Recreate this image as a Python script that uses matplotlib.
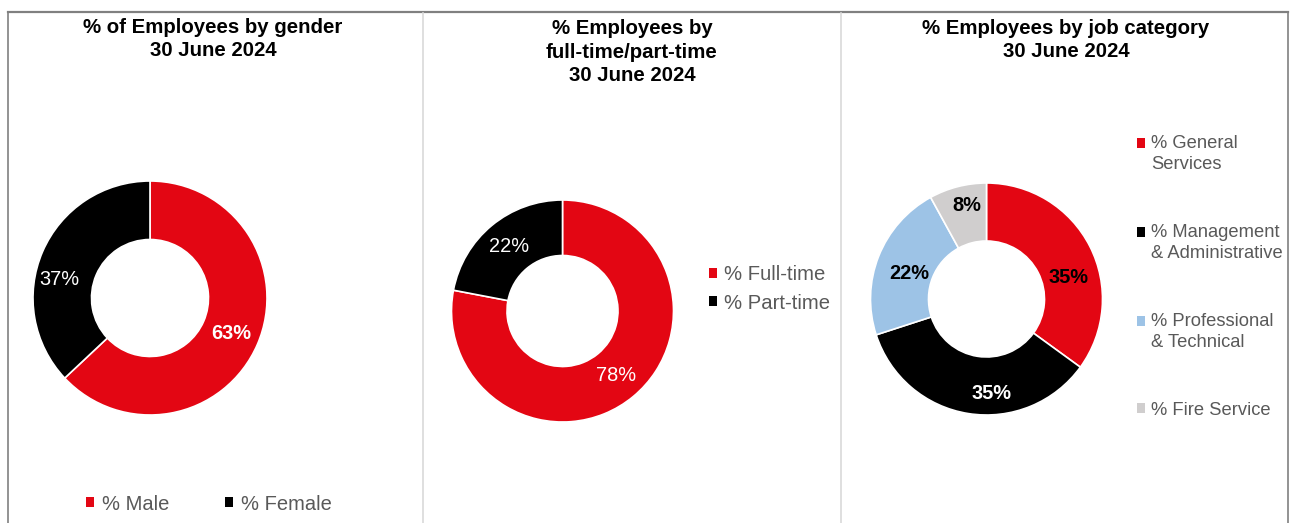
import numpy as np
import matplotlib
matplotlib.use('Agg')
import matplotlib.pyplot as plt
from matplotlib.lines import Line2D
from matplotlib.patches import Rectangle
from matplotlib.legend_handler import HandlerPatch

plt.rcParams['font.family'] = ['Liberation Sans', 'DejaVu Sans']

# data
gender_labels = ['% Male', '% Female']
gender_values = [63, 37]

fte_labels = ['% Full-time', '% Part-time']
fte_values = [78, 22]

job_labels = ['% General\nServices', '% Management\n& Administrative',
              '% Professional\n& Technical', '% Fire Service']
job_values = [35, 35, 22, 8]

titles = ['% of Employees by gender\n30 June 2024',
          '% Employees by\nfull-time/part-time\n30 June 2024',
          '% Employees by job category\n30 June 2024']

RED = '#E30613'
BLACK = '#000000'
BLUE = '#9DC3E6'
GREY = '#D0CECE'
LEG_TXT = '#595959'

W, H = 1293, 523
fig = plt.figure(figsize=(W / 100, H / 100), dpi=100)


def donut(cx, cy, r, values, colors, lab_colors, lab_weights, lab_r, lab_nudge):
    ax = fig.add_axes([(cx - r) / W, (H - cy - r) / H, 2 * r / W, 2 * r / H])
    wedges, _ = ax.pie(values, colors=colors, startangle=90, counterclock=False,
                       radius=1.0,
                       wedgeprops=dict(width=0.5, edgecolor='white', linewidth=1.2))
    ax.set_xlim(-1, 1)
    ax.set_ylim(-1, 1)
    total = float(sum(values))
    for w, v, c, fw, d, nd in zip(wedges, values, lab_colors, lab_weights, lab_r, lab_nudge):
        ang = np.deg2rad((w.theta1 + w.theta2) / 2 + nd)
        ax.text(d * np.cos(ang), d * np.sin(ang), f'{100 * v / total:.0f}%',
                ha='center', va='center', color=c, fontsize=14.4, fontweight=fw)
    return ax, wedges


def clean_handles(leg):
    for h in leg.legend_handles:
        h.set_edgecolor('none')
        h.set_linewidth(0)


# panel 1 - gender
ax1, w1 = donut(150, 298, 117, gender_values, [RED, BLACK],
                ['white', 'white'], ['bold', 'normal'], [0.76, 0.79], [0, 12])
leg1 = ax1.legend(w1, gender_labels, loc='center', ncol=2, frameon=False,
                  bbox_to_anchor=(209 / W, 1 - 504 / H), bbox_transform=fig.transFigure,
                  fontsize=14.5, labelcolor=LEG_TXT, handlelength=0.36, handleheight=0.36,
                  handletextpad=0.4, columnspacing=2.8, borderpad=0, borderaxespad=0)
clean_handles(leg1)

# panel 2 - full-time / part-time
ax2, w2 = donut(562.5, 311, 111, fte_values, [RED, BLACK],
                ['white', 'white'], ['normal', 'normal'], [0.75, 0.75], [0, 0])
leg2 = ax2.legend(w2, fte_labels, loc='center left', frameon=False,
                  bbox_to_anchor=(709 / W, 1 - 289 / H), bbox_transform=fig.transFigure,
                  fontsize=14.6, labelcolor=LEG_TXT, handlelength=0.4, handleheight=0.4,
                  handletextpad=0.35, labelspacing=0.45, borderpad=0, borderaxespad=0)
clean_handles(leg2)

# panel 3 - job category
ax3, w3 = donut(986.5, 299, 116, job_values, [RED, BLACK, BLUE, GREY],
                [BLACK, 'white', BLACK, BLACK], ['bold'] * 4,
                [0.73, 0.82, 0.70, 0.82], [-12.6, 12, 3, -2.4])
for w, l in zip(w3, job_labels):
    w.set_label(l)


def top_square(legend, orig_handle, xdescent, ydescent, width, height, fontsize):
    # put the marker next to the first line of a two-line label
    shift = 0.6 * fontsize if '\n' in orig_handle.get_label() else 0
    return Rectangle((-xdescent, -ydescent + shift), width, height)


leg3 = ax3.legend(handles=list(w3), loc='center left', frameon=False,
                  bbox_to_anchor=(1137 / W, 1 - 277 / H), bbox_transform=fig.transFigure,
                  fontsize=13.2, labelcolor=LEG_TXT, handlelength=0.45, handleheight=0.45,
                  handletextpad=0.3, labelspacing=2.78, borderpad=0, borderaxespad=0,
                  handler_map={w: HandlerPatch(patch_func=top_square) for w in w3})
for t in leg3.get_texts():
    t.set_linespacing(1.3)
clean_handles(leg3)

# titles
for x, y, t in zip([213, 632, 1066], [39, 52, 40], titles):
    fig.text(x / W, 1 - y / H, t, ha='center', va='center', fontsize=14.7,
             fontweight='bold', color='black', linespacing=1.32)

# frame and panel dividers
fig.add_artist(Line2D([8 / W, 1288 / W], [1 - 11.5 / H, 1 - 11.5 / H],
                      color='#808080', lw=1.6, transform=fig.transFigure))
for x in [8, 1288]:
    fig.add_artist(Line2D([x / W, x / W], [0, 1 - 11.5 / H], color='#808080',
                          lw=1.2, transform=fig.transFigure))
for x in [423, 841]:
    fig.add_artist(Line2D([x / W, x / W], [0, 1 - 12.5 / H], color='#D9D9D9',
                          lw=1.2, transform=fig.transFigure))

fig.savefig('out.png', dpi=100, facecolor='white')
